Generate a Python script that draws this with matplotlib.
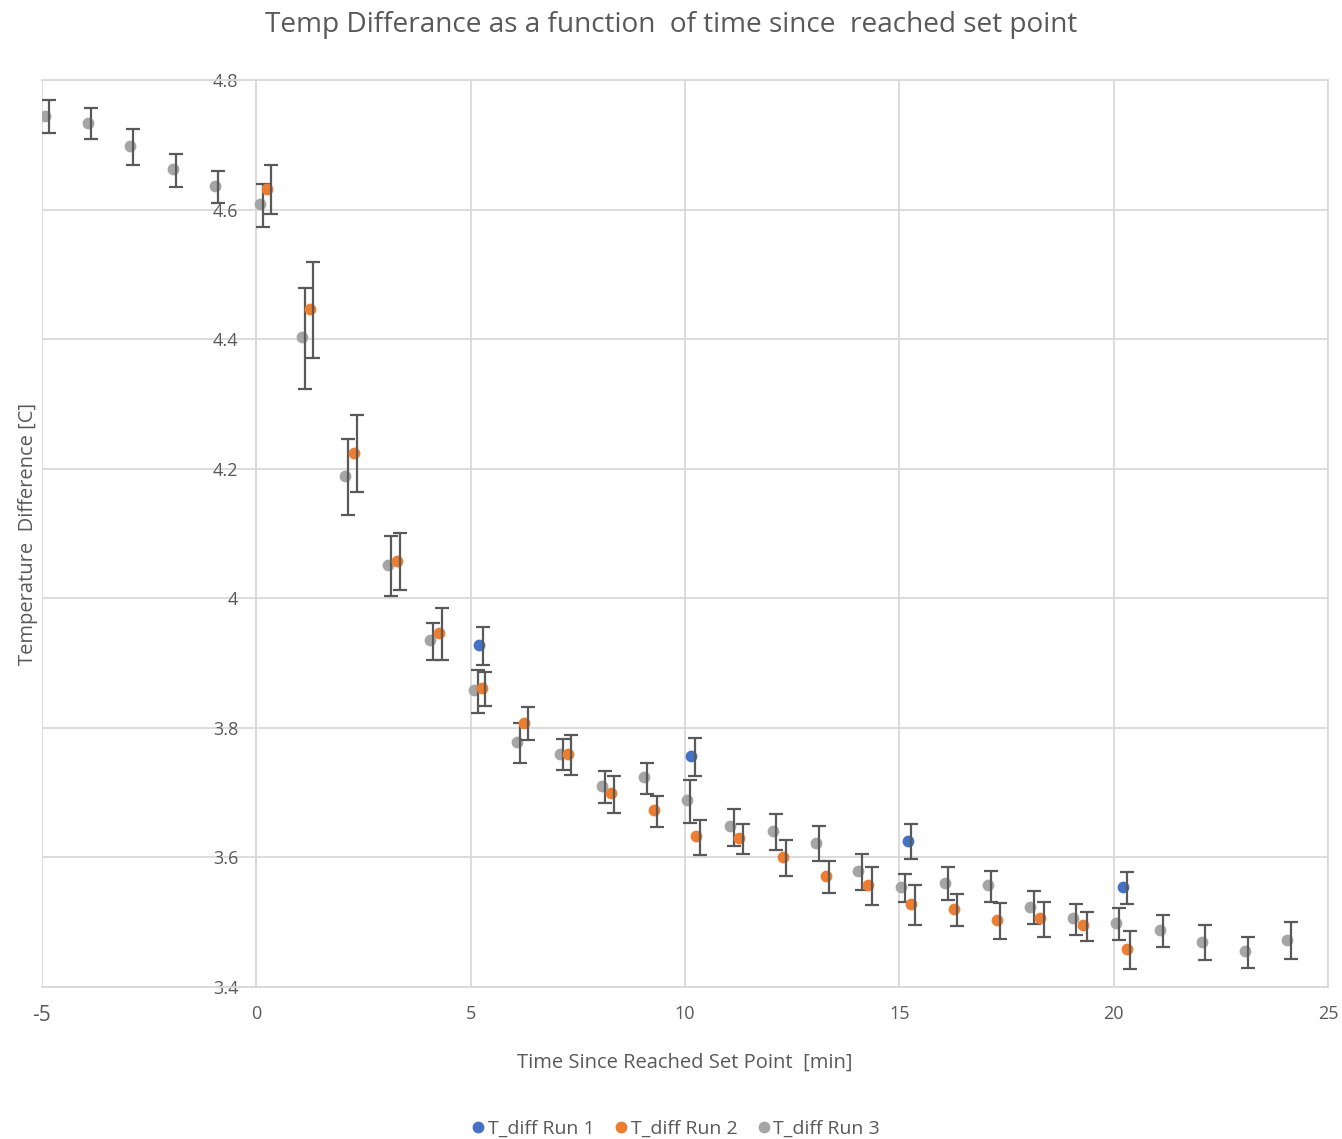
import numpy as np
import matplotlib
matplotlib.use("Agg")
import matplotlib.pyplot as plt
import matplotlib.transforms as mtransforms
from matplotlib.lines import Line2D

plt.rcParams['font.family'] = ['Open Sans', 'DejaVu Sans']
plt.rcParams['axes.unicode_minus'] = False

# run 1 - only logged every 5 min
t_run1 = [5.2, 10.15, 15.2, 20.22]
dT_run1 = [3.928, 3.757, 3.626, 3.554]
err_run1 = [0.029, 0.029, 0.027, 0.025]

# run 2
t_run2 = [0.25, 1.25, 2.27, 3.27, 4.26, 5.26, 6.25, 7.27, 8.27, 9.27, 10.26,
          11.26, 12.28, 13.28, 14.28, 15.28, 16.27, 17.27, 18.29, 19.29, 20.3]
dT_run2 = [4.632, 4.447, 4.225, 4.058, 3.946, 3.862, 3.808, 3.760, 3.699, 3.673, 3.633,
           3.630, 3.601, 3.571, 3.557, 3.528, 3.520, 3.503, 3.506, 3.495, 3.459]
err_run2 = [0.038, 0.074, 0.060, 0.044, 0.040, 0.026, 0.025, 0.031, 0.029, 0.024, 0.027,
            0.023, 0.0275, 0.025, 0.029, 0.031, 0.025, 0.0275, 0.0275, 0.022, 0.029]

# run 3 - starts 5 min before set point
t_run3 = [-4.93, -3.93, -2.95, -1.95, -0.97, 0.08, 1.06, 2.06, 3.07, 4.05,
          5.08, 6.08, 7.08, 8.06, 9.04, 10.04, 11.06, 12.05, 13.05, 14.04,
          15.04, 16.06, 17.06, 18.05, 19.05, 20.05, 21.08, 22.06, 23.06, 24.05]
dT_run3 = [4.745, 4.734, 4.698, 4.662, 4.636, 4.608, 4.403, 4.189, 4.051, 3.935,
           3.858, 3.778, 3.760, 3.710, 3.724, 3.688, 3.648, 3.641, 3.623, 3.579,
           3.554, 3.561, 3.557, 3.524, 3.506, 3.499, 3.488, 3.470, 3.455, 3.473]
err_run3 = [0.026, 0.024, 0.0275, 0.025, 0.025, 0.033, 0.078, 0.059, 0.046, 0.029,
            0.033, 0.031, 0.024, 0.025, 0.024, 0.033, 0.029, 0.0275, 0.0275, 0.0275,
            0.022, 0.025, 0.024, 0.025, 0.024, 0.025, 0.025, 0.027, 0.024, 0.029]

labels = ['T_diff Run 1', 'T_diff Run 2', 'T_diff Run 3']
colors = ['#4472C4', '#ED7D31', '#A5A5A5']
txt_col = '#595959'
grid_col = '#D9D9D9'

fig = plt.figure(figsize=(13.42, 11.39), dpi=100)
ax = fig.add_axes([42 / 1342, 1 - 987 / 1139, 1286 / 1342, 907 / 1139])

# error bars sit a few pixels right of (and just below) the markers
shift = mtransforms.ScaledTranslation(3.5 / 100, -1.0 / 100, fig.dpi_scale_trans)

series = [(t_run3, dT_run3, err_run3, colors[2]),
          (t_run2, dT_run2, err_run2, colors[1]),
          (t_run1, dT_run1, err_run1, colors[0])]
z = 3
for t, d, e, c in series:
    ax.plot(t, d, 'o', color=c, markersize=8.5, markeredgewidth=0, zorder=z)
    cont = ax.errorbar(t, d, yerr=e, fmt='none', ecolor=txt_col, elinewidth=1.6,
                       capsize=5, capthick=1.6, zorder=z + 1)
    for art in list(cont.lines[1]) + list(cont.lines[2]):
        art.set_transform(ax.transData + shift)
    z += 2

ax.set_xlim(-5, 25)
ax.set_ylim(3.4, 4.8)
ax.set_xticks(np.arange(-5, 26, 5))
ax.set_yticks(np.arange(3.4, 4.81, 0.2))
ax.yaxis.set_major_formatter(matplotlib.ticker.FuncFormatter(lambda v, p: f'{v:g}'))

ax.grid(True, color=grid_col, linewidth=1.3, zorder=0)
ax.set_axisbelow(True)
for s in ['top', 'right', 'bottom']:
    ax.spines[s].set_color(grid_col)
    ax.spines[s].set_linewidth(1.3)
# value axis crosses at x = 0
ax.spines['left'].set_position(('data', 0))
ax.spines['left'].set_color(grid_col)
ax.spines['left'].set_linewidth(1.3)

ax.tick_params(axis='both', length=0, colors=txt_col)
ax.tick_params(axis='y', labelsize=13, pad=13)
ax.tick_params(axis='x', labelsize=13, pad=13)
# first category label comes out a bit bigger
fig.canvas.draw()
first = ax.get_xticklabels()[0]
first.set_fontsize(15)

ax.set_xlabel('Time Since Reached Set Point  [min]', fontsize=14.5, color=txt_col, labelpad=19)
fig.text(28 / 1342, 1 - 534 / 1139, 'Temperature  Difference [C]', rotation=90,
         fontsize=14.5, color=txt_col, ha='center', va='center')
fig.text(0.5, 1 - 25 / 1139, 'Temp Differance as a function  of time since  reached set point',
         fontsize=20.2, color=txt_col, ha='center', va='center')

handles = [Line2D([], [], linestyle='none', marker='o', markersize=8.5,
                  markeredgewidth=0, color=c) for c in colors]
fig.legend(handles, labels, loc='center', bbox_to_anchor=(0.504, 1 - 1129 / 1139),
           ncol=3, frameon=False, fontsize=14, labelcolor=txt_col,
           handletextpad=0.2, columnspacing=1.05, handlelength=0.6)

fig.savefig('out.png', dpi=100)
